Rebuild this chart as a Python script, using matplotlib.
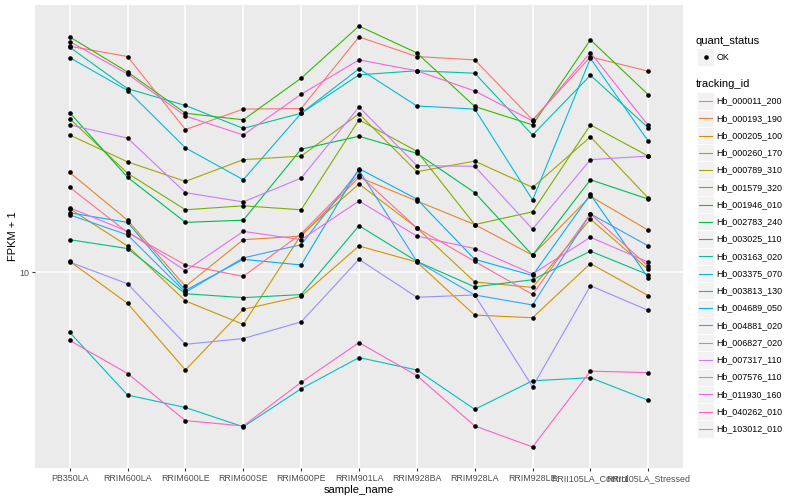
import matplotlib
matplotlib.use("Agg")
import matplotlib.pyplot as plt
from matplotlib.lines import Line2D
from matplotlib.patches import Rectangle
from matplotlib.ticker import NullLocator, FixedLocator, FixedFormatter
import numpy as np

plt.rcParams['font.family'] = ['Liberation Sans', 'DejaVu Sans']

samples = ["PB350LA", "RRIM600LA", "RRIM600LE", "RRIM600SE", "RRIM600PE",
           "RRIM901LA", "RRIM928BA", "RRIM928LA", "RRIM928LE",
           "RRII105LA_Control", "RRII105LA_Stressed"]

tracking_ids = ["Hb_000011_200", "Hb_000193_190", "Hb_000205_100", "Hb_000260_170",
                "Hb_000789_310", "Hb_001579_320", "Hb_001946_010", "Hb_002783_240",
                "Hb_003025_110", "Hb_003163_020", "Hb_003375_070", "Hb_003813_130",
                "Hb_004689_050", "Hb_004881_020", "Hb_006827_020", "Hb_007317_110",
                "Hb_007576_110", "Hb_011930_160", "Hb_040262_010", "Hb_103012_010"]

colors = ["#F8766D", "#EA8331", "#D89000", "#C09B00", "#A3A500", "#7CAE00",
          "#39B600", "#00BB4E", "#00BF7D", "#00C1A3", "#00BFC4", "#00BAE0",
          "#00B0F6", "#35A2FF", "#9590FF", "#C77CFF", "#E76BF3", "#FA62DB",
          "#FF62BC", "#FF6C91"]

# FPKM + 1 per sample (order of `samples`)
Hb_000011_200 = [44.3, 41.4, 25.6, 29.3, 29.4, 47.1, 41.4, 40.5, 27.3, 41.3, 37.6]
Hb_000193_190 = [19.3, 14.1, 9.12, 12.4, 12.7, 18.7, 16.0, 13.7, 11.2, 16.5, 13.2]
Hb_000205_100 = [10.75, 8.16, 5.26, 7.84, 8.54, 11.9, 10.7, 7.55, 7.42, 10.6, 8.58]
Hb_000260_170 = [15.2, 11.9, 8.29, 7.10, 12.8, 17.9, 13.4, 9.39, 9.06, 14.2, 10.2]
Hb_000789_310 = [24.7, 20.7, 18.2, 21.0, 21.5, 28.4, 19.4, 20.8, 17.5, 24.4, 16.3]
Hb_001579_320 = [27.5, 19.2, 15.1, 15.5, 15.1, 27.3, 22.2, 13.7, 14.9, 26.4, 21.5]
Hb_001946_010 = [47.1, 37.4, 28.5, 27.3, 35.9, 50.6, 42.4, 29.8, 26.4, 46.2, 32.2]
Hb_002783_240 = [28.6, 18.7, 13.9, 14.1, 22.5, 24.5, 21.9, 16.9, 11.2, 18.4, 16.2]
Hb_003025_110 = [12.4, 11.7, 8.69, 8.47, 8.64, 13.6, 10.75, 9.09, 9.53, 11.5, 9.85]
Hb_003163_020 = [44.0, 33.5, 30.0, 25.8, 28.5, 36.7, 37.7, 37.1, 24.7, 36.6, 25.9]
Hb_003375_070 = [6.74, 4.46, 4.11, 3.62, 4.65, 5.71, 5.26, 4.06, 4.90, 5.00, 4.31]
Hb_003813_130 = [41.1, 33.1, 22.7, 18.4, 28.5, 38.2, 29.9, 29.3, 16.1, 40.9, 23.7]
Hb_004689_050 = [14.8, 13.9, 8.88, 10.9, 10.5, 19.8, 16.2, 10.9, 9.8, 16.7, 9.64]
Hb_004881_020 = [14.6, 12.8, 8.77, 11.0, 12.0, 19.6, 10.75, 8.62, 8.07, 14.7, 11.9]
Hb_006827_020 = [10.7, 9.28, 6.23, 6.47, 7.22, 10.9, 8.49, 8.62, 4.71, 9.16, 7.79]
Hb_007317_110 = [26.4, 24.2, 16.9, 15.9, 18.6, 29.7, 20.2, 20.1, 13.3, 21.0, 21.5]
Hb_007576_110 = [15.3, 13.1, 10.1, 13.1, 12.4, 16.0, 12.7, 11.7, 9.9, 12.6, 10.7]
Hb_011930_160 = [45.7, 36.9, 28.0, 24.7, 32.3, 40.5, 37.7, 33.0, 27.1, 42.5, 26.3]
Hb_040262_010 = [6.39, 5.14, 3.77, 3.64, 4.85, 6.30, 5.07, 3.64, 3.17, 5.22, 5.17]
Hb_103012_010 = [17.5, 13.0, 10.5, 9.74, 12.9, 19.0, 13.4, 10.75, 8.65, 14.7, 10.4]

series = [Hb_000011_200, Hb_000193_190, Hb_000205_100, Hb_000260_170, Hb_000789_310,
          Hb_001579_320, Hb_001946_010, Hb_002783_240, Hb_003025_110, Hb_003163_020,
          Hb_003375_070, Hb_003813_130, Hb_004689_050, Hb_004881_020, Hb_006827_020,
          Hb_007317_110, Hb_007576_110, Hb_011930_160, Hb_040262_010, Hb_103012_010]

W, H = 800, 500
fig = plt.figure(figsize=(8, 5), dpi=100)
fig.patch.set_facecolor('white')

def fx(px):
    return px / W

def fy(py):
    return 1 - py / H

ax = fig.add_axes([fx(35), fy(468), fx(683) - fx(35), fy(5) - fy(468)])
ax.set_facecolor('#EBEBEB')
for s in ax.spines.values():
    s.set_visible(False)

x = np.arange(len(samples))
for xi in x:
    ax.axvline(xi, color='white', lw=1.1, zorder=0)
ax.axhline(10, color='white', lw=1.1, zorder=0)

for vals, c in zip(series, colors):
    ax.plot(x, vals, color=c, lw=0.8, zorder=2, solid_capstyle='butt')
for vals in series:
    ax.plot(x, vals, 'o', color='black', ms=3.3, mew=0, zorder=3, linestyle='none')

ax.set_yscale('log')
allv = np.log10(np.concatenate([np.array(v) for v in series]))
lo, hi = allv.min(), allv.max()
pad = (hi - lo) * 0.05
ax.set_ylim(10 ** (lo - pad), 10 ** (hi + pad))
ax.set_xlim(-0.6, len(samples) - 0.4)
ax.yaxis.set_major_locator(FixedLocator([10]))
ax.yaxis.set_major_formatter(FixedFormatter(['10']))
ax.yaxis.set_minor_locator(NullLocator())
ax.set_xticks(x)
ax.set_xticklabels(samples)
ax.tick_params(axis='both', which='major', length=2.5, width=0.8, color='#333333',
               labelcolor='#4D4D4D', labelsize=6.4, pad=1.8)
ax.set_xlabel('sample_name', fontsize=8, color='black', labelpad=1.5)
ax.set_ylabel('FPKM + 1', fontsize=8, color='black', labelpad=1)

# legends
fig.text(fx(696), fy(40.7), 'quant_status', fontsize=8, va='center', ha='left')
fig.patches.append(Rectangle((fx(697), fy(65.5)), fx(17), 17 / H, transform=fig.transFigure,
                             facecolor='#F2F2F2', edgecolor='white', lw=0.5))
fig.lines.append(Line2D([fx(705.5)], [fy(57)], marker='o', ms=3.3, mew=0, color='black',
                        transform=fig.transFigure))
fig.text(fx(716.5), fy(57), 'OK', fontsize=6.4, va='center', ha='left')

fig.text(fx(696), fy(84.3), 'tracking_id', fontsize=8, va='center', ha='left')
step = 17.26
for i, (tid, c) in enumerate(zip(tracking_ids, colors)):
    cy = 101 + step * i
    fig.patches.append(Rectangle((fx(697), fy(cy + 8.6)), fx(17), 17.2 / H,
                                 transform=fig.transFigure,
                                 facecolor='#F2F2F2', edgecolor='white', lw=0.5))
    fig.lines.append(Line2D([fx(699), fx(712)], [fy(cy), fy(cy)], color=c, lw=0.8,
                            transform=fig.transFigure))
    fig.text(fx(716.5), fy(cy), tid, fontsize=6.4, va='center', ha='left')

fig.savefig('out.png', dpi=100)
